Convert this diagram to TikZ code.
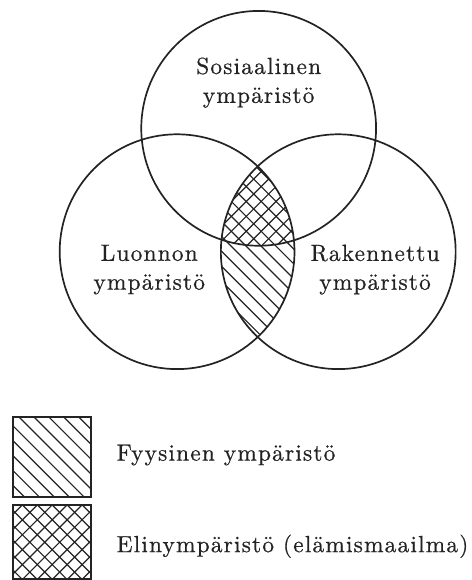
\documentclass[tikz,border=0pt]{standalone}
\usepackage{fontspec}
\usepackage{tikz}
\usetikzlibrary{positioning}
\newfontfamily\vennfont{lmroman10-regular.otf}[LetterSpace=5,FakeBold=0.6]
\definecolor{venndark}{RGB}{35,35,35}
\tikzset{
	venncircle/.style={draw=venndark, line width=1.7pt},
	hatchline/.style={venndark, line width=1.2pt},
	legendbox/.style={draw=venndark, line width=2pt},
	vennlabel/.style={font=\vennfont\fontsize{23.5}{29}\selectfont, text=venndark, align=center, inner sep=0pt},
	legendlabel/.style={font=\vennfont\fontsize{23.5}{29}\selectfont, text=venndark, inner sep=0pt}
}
\begin{document}
\begin{tikzpicture}[x=1pt,y=-1pt]
	\fill[white] (0,0) rectangle (474,580);
	\coordinate (sos) at (260,129);
	\coordinate (luo) at (178,253);
	\coordinate (rak) at (340,253);
	% lens: hatched below, cross-hatched inside the social circle
	\begin{scope}
		\clip (luo) circle[radius=118pt];
		\clip (rak) circle[radius=118pt];
		\foreach \s in {15,30,...,300}{\draw[hatchline] (\s,150) -- ++(200,200);}
		\fill[white] (sos) circle[radius=118pt];
		\clip (sos) circle[radius=118pt];
		\foreach \s in {15,30,...,300}{\draw[hatchline] (\s,150) -- ++(200,200);}
		\foreach \s in {225,240,...,420}{\draw[hatchline] (\s,150) -- ++(-200,200);}
	\end{scope}
	\draw[venncircle] (sos) circle[radius=118pt];
	\draw[venncircle] (luo) circle[radius=118pt];
	\draw[venncircle] (rak) circle[radius=118pt];
	\node[vennlabel] (soslabel) at (260,83) {Sosiaalinen\\ympäristö};
	\node[vennlabel] (luolabel) at (150,271) {Luonnon\\ympäristö};
	\node[vennlabel] (raklabel) at (377,271) {Rakennettu\\ympäristö};
	% legend
	\begin{scope}
		\clip (13,419) rectangle (91,500);
		\foreach \s in {-90,-75,...,75}{\draw[hatchline] (\s,400) -- ++(120,120);}
	\end{scope}
	\draw[legendbox] (13,419) rectangle (91,500);
	\begin{scope}
		\clip (13,508) rectangle (91,582);
		\foreach \s in {-75,-60,...,90}{\draw[hatchline] (\s,500) -- ++(100,100);}
		\foreach \s in {15,30,...,180}{\draw[hatchline] (\s,500) -- ++(-100,100);}
	\end{scope}
	\draw[legendbox] (13,508) rectangle (91,582);
	\node[legendlabel, anchor=base west] (fyyslabel) at (117,463) {Fyysinen ympäristö};
	\node[legendlabel, anchor=base west] (elinlabel) at (117,555) {Elinympäristö (elämismaailma)};
\end{tikzpicture}
\end{document}
